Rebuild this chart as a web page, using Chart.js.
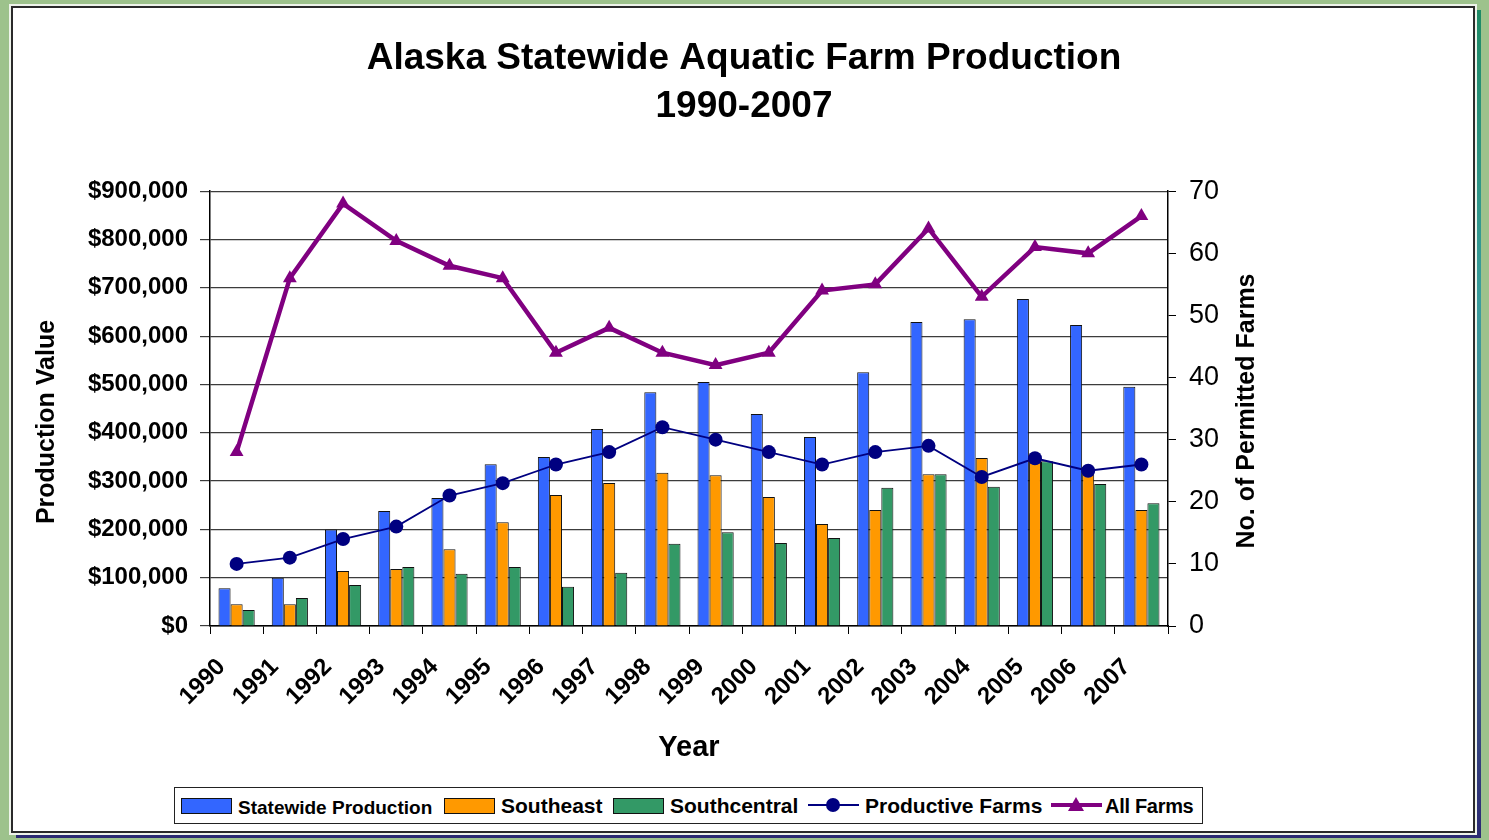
<!DOCTYPE html>
<html>

<head>
  <meta charset="UTF-8">
  <title>Alaska Statewide Aquatic Farm Production</title>
</head>

<body>

<style type="text/css">
  html, body {
    margin: 0;
    padding: 0;
    width: 1489px;
    height: 840px;
    overflow: hidden;
    background: #9dc28c;
    font-family: 'Liberation Sans', Arial, sans-serif;
  }
  .shadow {
    position: absolute;
    left: 16px;
    top: 10px;
    width: 1465px;
    height: 828px;
    background: linear-gradient(#1f8a66, #3b9c9c 35%, #4a7a9a 65%, #2b2a72);
  }
  .panel {
    position: absolute;
    left: 11px;
    top: 6px;
    width: 1464px;
    height: 827px;
    box-sizing: border-box;
    background: #fff;
    border: 2px solid #2a2a2a;
    outline: 2px solid #eef3ea;
  }
  .chartBox {
    position: absolute;
    left: 0;
    top: 0;
    width: 1489px;
    height: 840px;
  }
  #legend {
    position: absolute;
    left: 174px;
    top: 787px;
    width: 1029px;
    height: 37px;
    box-sizing: border-box;
    border: 1px solid #222;
    background: #fff;
  }
  #legend .item {
    position: absolute;
    top: 0;
    height: 35px;
  }
  #legend .swatch {
    position: absolute;
    top: 10px;
    width: 49px;
    height: 14px;
    border: 1px solid #111;
  }
  #legend .label {
    position: absolute;
    top: 6px;
    white-space: nowrap;
    font-weight: bold;
    font-size: 21px;
    line-height: 24px;
    color: #000;
  }
</style>

<div class="shadow"></div>
<div class="panel"></div>
<div class="chartBox">
  <canvas id="myChart" width="1489" height="840"></canvas>
</div>
<div id="legend"></div>

<script src="https://cdn.jsdelivr.net/npm/chart.js@4.4.1/dist/chart.umd.min.js"></script>
<script>
const years = ['1990', '1991', '1992', '1993', '1994', '1995', '1996', '1997', '1998',
               '1999', '2000', '2001', '2002', '2003', '2004', '2005', '2006', '2007'];
// production value ($)
const statewide = [78000, 100000, 200000, 238000, 265000, 335000, 350000, 408000, 484000,
                   505000, 439000, 391000, 525000, 629000, 635000, 677000, 623000, 495000];
const southeast = [45000, 45000, 114000, 118000, 159000, 215000, 271000, 296000, 317000,
                   312000, 267000, 211000, 240000, 314000, 348000, 343000, 329000, 240000];
const southcentral = [33000, 58000, 85000, 122000, 108000, 122000, 81000, 110000, 170000,
                      194000, 172000, 182000, 286000, 314000, 288000, 341000, 294000, 254000];
// number of farms
const productiveFarms = [10, 11, 14, 16, 21, 23, 26, 28, 32, 30, 28, 26, 28, 29, 24, 27, 25, 26];
const allFarms = [28, 56, 68, 62, 58, 56, 44, 48, 44, 42, 44, 54, 55, 64, 53, 61, 60, 66];

const FONT = "'Liberation Sans', Arial, sans-serif";

// both axis titles read bottom-to-top and sit a bit off-centre, so draw them by hand
const axisTitles = {
  id: 'axisTitles',
  afterDraw(chart) {
    const {ctx} = chart;
    const put = (text, x, y) => {
      ctx.save();
      ctx.translate(x, y);
      ctx.rotate(-Math.PI / 2);
      ctx.font = 'bold 25px ' + FONT;
      ctx.fillStyle = '#000';
      ctx.textAlign = 'center';
      ctx.textBaseline = 'middle';
      ctx.fillText(text, 0, 0);
      ctx.restore();
    };
    put('Production Value', 47, 422);
    put('No. of Permitted Farms', 1247, 411);
  }
};

const ctx = document.getElementById('myChart').getContext('2d');
const myChart = new Chart(ctx, {
  data: {
    labels: years,
    datasets: [
      {
        type: 'line',
        label: 'Productive Farms',
        data: productiveFarms,
        yAxisID: 'y1',
        borderColor: '#000080',
        backgroundColor: '#000080',
        borderWidth: 1.8,
        pointStyle: 'circle',
        pointRadius: 7,
        pointBackgroundColor: '#000080',
        pointBorderWidth: 0,
        order: 1
      },
      {
        type: 'line',
        label: 'All Farms',
        data: allFarms,
        yAxisID: 'y1',
        borderColor: '#800080',
        backgroundColor: '#800080',
        borderWidth: 4.5,
        pointStyle: 'triangle',
        pointRadius: 8,
        pointBackgroundColor: '#800080',
        pointBorderWidth: 0,
        order: 2
      },
      {
        type: 'bar',
        label: 'Statewide Production',
        data: statewide,
        backgroundColor: '#3366ff',
        borderColor: '#111',
        borderWidth: 1,
        borderSkipped: 'bottom',
        barPercentage: 1,
        categoryPercentage: 0.68,
        order: 3
      },
      {
        type: 'bar',
        label: 'Southeast',
        data: southeast,
        backgroundColor: '#ff9900',
        borderColor: '#111',
        borderWidth: 1,
        borderSkipped: 'bottom',
        barPercentage: 1,
        categoryPercentage: 0.68,
        order: 3
      },
      {
        type: 'bar',
        label: 'Southcentral',
        data: southcentral,
        backgroundColor: '#339966',
        borderColor: '#111',
        borderWidth: 1,
        borderSkipped: 'bottom',
        barPercentage: 1,
        categoryPercentage: 0.68,
        order: 3
      }
    ]
  },
  options: {
    responsive: false,
    animation: false,
    layout: {
      padding: {left: 32, right: 33, top: 10, bottom: 74}
    },
    scales: {
      x: {
        offset: true,
        grid: {
          offset: true,
          drawOnChartArea: false,
          drawTicks: true,
          tickLength: 8,
          color: '#000'
        },
        border: {color: '#000', width: 1.5},
        ticks: {
          minRotation: 45,
          maxRotation: 45,
          autoSkip: false,
          padding: 19,
          labelOffset: -15,
          color: '#000',
          font: {family: FONT, size: 24, weight: 'bold'}
        },
        title: {
          display: true,
          text: 'Year',
          color: '#000',
          padding: {top: 4, bottom: 1},
          font: {family: FONT, size: 29, weight: 'bold', lineHeight: 1.2}
        },
        afterFit: (scale) => { scale.height = 140; }
      },
      y: {
        position: 'left',
        min: 0,
        max: 900000,
        grid: {
          color: '#3c3c3c',
          lineWidth: 1.2,
          drawTicks: true,
          tickLength: 10
        },
        border: {color: '#000', width: 1.5},
        ticks: {
          stepSize: 100000,
          padding: 12,
          color: '#000',
          font: {family: FONT, size: 24, weight: 'bold'},
          callback: (v) => '$' + v.toLocaleString('en-US')
        },
        afterFit: (scale) => { scale.width = 178; }
      },
      y1: {
        position: 'right',
        min: 0,
        max: 70,
        grid: {
          drawOnChartArea: false,
          drawTicks: true,
          tickLength: 8,
          color: '#000'
        },
        border: {color: '#000', width: 1.5},
        ticks: {
          stepSize: 10,
          padding: 13,
          color: '#000',
          font: {family: FONT, size: 27}
        },
        afterFit: (scale) => { scale.width = 288; }
      }
    },
    plugins: {
      legend: {display: false},
      tooltip: {enabled: false},
      title: {
        display: true,
        text: ['Alaska Statewide Aquatic Farm Production', '1990-2007'],
        color: '#000',
        padding: {top: 25, bottom: 60},
        font: {family: FONT, size: 37, weight: 'bold', lineHeight: 1.3}
      }
    }
  },
  plugins: [axisTitles]
});

// legend built from the chart's own datasets
const legendOrder = ['Statewide Production', 'Southeast', 'Southcentral', 'Productive Farms', 'All Farms'];
const legendLeft = [6, 269, 438, 633, 876];
const legendEl = document.getElementById('legend');
legendOrder.forEach((name, i) => {
  const ds = myChart.data.datasets.find(d => d.label === name);
  const item = document.createElement('div');
  item.className = 'item';
  item.style.left = legendLeft[i] + 'px';
  let mark;
  if (ds.type === 'bar') {
    mark = '<div class="swatch" style="left:0;background:' + ds.backgroundColor + '"></div>';
  } else {
    const dot = ds.pointStyle === 'circle'
      ? '<circle cx="25" cy="9" r="7" fill="' + ds.borderColor + '"/>'
      : '<polygon points="25,1 33,15 17,15" fill="' + ds.borderColor + '"/>';
    mark = '<svg style="position:absolute;left:0;top:8px" width="51" height="18">' +
      '<line x1="0" y1="9" x2="51" y2="9" stroke="' + ds.borderColor + '" stroke-width="' +
      (ds.borderWidth > 3 ? 4 : 2) + '"/>' + dot + '</svg>';
  }
  let style = 'left:57px;';
  if (name === 'Statewide Production') style += 'font-size:19px;top:8px;';
  if (name === 'All Farms') style = 'left:54px;font-size:20px;top:6px;letter-spacing:-0.3px;';
  item.innerHTML = mark + '<span class="label" style="' + style + '">' + name + '</span>';
  legendEl.appendChild(item);
});
</script>

</body>
</html>
